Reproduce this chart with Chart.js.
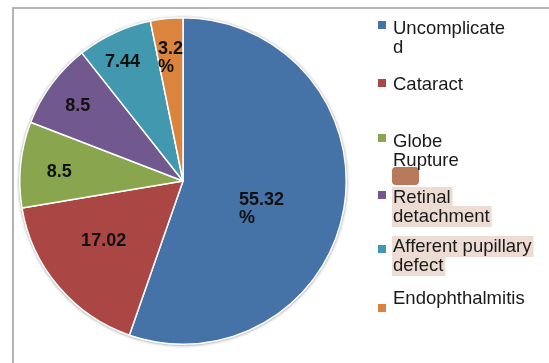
<!DOCTYPE html>
<html>
<head>
<meta charset="utf-8">
<script src="https://cdn.jsdelivr.net/npm/chart.js@4.4.1/dist/chart.umd.min.js"></script>
<style>
  html, body { margin: 0; padding: 0; background: #ffffff; }
  #wrap { position: relative; width: 549px; height: 363px; }
  canvas { display: block; }
</style>
</head>
<body>
<div id="wrap"><canvas id="c" width="549" height="363"></canvas></div>
<script>
// ---- data ----
const categories = ["Uncomplicated", "Cataract", "Globe Rupture", "Retinal detachment", "Afferent pupillary defect", "Endophthalmitis"];
const values = [55.32, 17.02, 8.5, 8.5, 7.44, 3.2];
const sliceLabels = [["55.32", "%"], ["17.02"], ["8.5"], ["8.5"], ["7.44"], ["3.2", "%"]];
const legendLines = [["Uncomplicate", "d"], ["Cataract"], ["Globe", "Rupture"], ["Retinal", "detachment"], ["Afferent pupillary", "defect"], ["Endophthalmitis"]];
const colors = ["#4572A7", "#AA4643", "#89A54E", "#71588F", "#4198AF", "#DB843D"];

// ---- styling / layout (not data) ----
const labelRadius = [0.51, 0.61, 0.76, 0.79, 0.82, 0.76];
const labelAngleShift = [10, 3, -1.5, -1, -2, 0]; // degrees
const legendTextY = [29, 85, 142, 198, 247, 299];
const legendMarkerY = [25, 83, 138, 195, 249, 308];
const legendHighlight = [false, false, false, true, true, false];

const framePlugin = {
  id: 'frame',
  beforeDraw(chart) {
    const ctx = chart.ctx;
    ctx.save();
    ctx.fillStyle = '#ffffff';
    ctx.fillRect(0, 0, chart.width, chart.height);
    ctx.strokeStyle = '#b4b4b4';
    ctx.lineWidth = 2;
    ctx.beginPath();
    ctx.moveTo(13, chart.height);
    ctx.lineTo(13, 8);
    ctx.lineTo(chart.width, 8);
    ctx.stroke();
    ctx.restore();
  },
  beforeDatasetsDraw(chart) {
    const arc = chart.getDatasetMeta(0).data[0];
    if (!arc) return;
    const ctx = chart.ctx;
    ctx.save();
    ctx.shadowColor = 'rgba(0,0,0,0.35)';
    ctx.shadowBlur = 3;
    ctx.fillStyle = '#d0d0d0';
    ctx.beginPath();
    ctx.arc(arc.x, arc.y + 0.5, arc.outerRadius + 1, 0, Math.PI * 2);
    ctx.fill();
    ctx.restore();
  }
};

const labelPlugin = {
  id: 'sliceLabels',
  afterDatasetsDraw(chart) {
    const ctx = chart.ctx;
    const meta = chart.getDatasetMeta(0);
    ctx.save();
    ctx.font = 'bold 18px "Liberation Sans", Arial, sans-serif';
    ctx.fillStyle = '#111111';
    ctx.textBaseline = 'middle';
    ctx.textAlign = 'left';
    const lh = 18;
    meta.data.forEach((arc, i) => {
      const mid = (arc.startAngle + arc.endAngle) / 2 + labelAngleShift[i] * Math.PI / 180;
      const r = arc.outerRadius * labelRadius[i];
      const cx = arc.x + Math.cos(mid) * r;
      const cy = arc.y + Math.sin(mid) * r;
      const lines = sliceLabels[i];
      const w = Math.max(...lines.map(l => ctx.measureText(l).width));
      const x0 = cx - w / 2;
      const y0 = cy - (lines.length - 1) * lh / 2;
      lines.forEach((l, k) => ctx.fillText(l, x0, y0 + k * lh));
    });
    ctx.restore();
  }
};

const legendPlugin = {
  id: 'sideLegend',
  afterDraw(chart) {
    const ctx = chart.ctx;
    ctx.save();
    ctx.font = '18.5px "Liberation Sans", Arial, sans-serif';
    ctx.textBaseline = 'middle';
    ctx.textAlign = 'left';
    const tx = 393, mx = 378, lh = 19;
    // stray brown mark in the source image
    ctx.fillStyle = '#b87a5a';
    ctx.beginPath();
    if (ctx.roundRect) ctx.roundRect(392, 167, 27, 18, 4); else ctx.rect(392, 167, 27, 18);
    ctx.fill();
    const bg = chart.data.datasets[0].backgroundColor;
    legendLines.forEach((lines, i) => {
      if (legendHighlight[i]) {
        ctx.fillStyle = '#ecdcd3';
        lines.forEach((l, k) => {
          const w = ctx.measureText(l).width;
          ctx.fillRect(tx - 1, legendTextY[i] + k * lh - 11, w + 3, lh + 2);
        });
      }
      ctx.fillStyle = bg[i];
      ctx.fillRect(mx, legendMarkerY[i] - 4, 8, 8);
      ctx.fillStyle = '#1a1a1a';
      lines.forEach((l, k) => ctx.fillText(l, tx, legendTextY[i] + k * lh));
    });
    ctx.restore();
  }
};

new Chart(document.getElementById('c'), {
  type: 'pie',
  data: {
    labels: categories,
    datasets: [{
      data: values,
      backgroundColor: colors,
      borderColor: '#ffffff',
      borderWidth: 1.5
    }]
  },
  options: {
    responsive: false,
    animation: false,
    events: [],
    layout: { padding: { left: 19, right: 202, top: 16, bottom: 17 } },
    plugins: {
      legend: { display: false },
      tooltip: { enabled: false }
    }
  },
  plugins: [framePlugin, labelPlugin, legendPlugin]
});
</script>
</body>
</html>
